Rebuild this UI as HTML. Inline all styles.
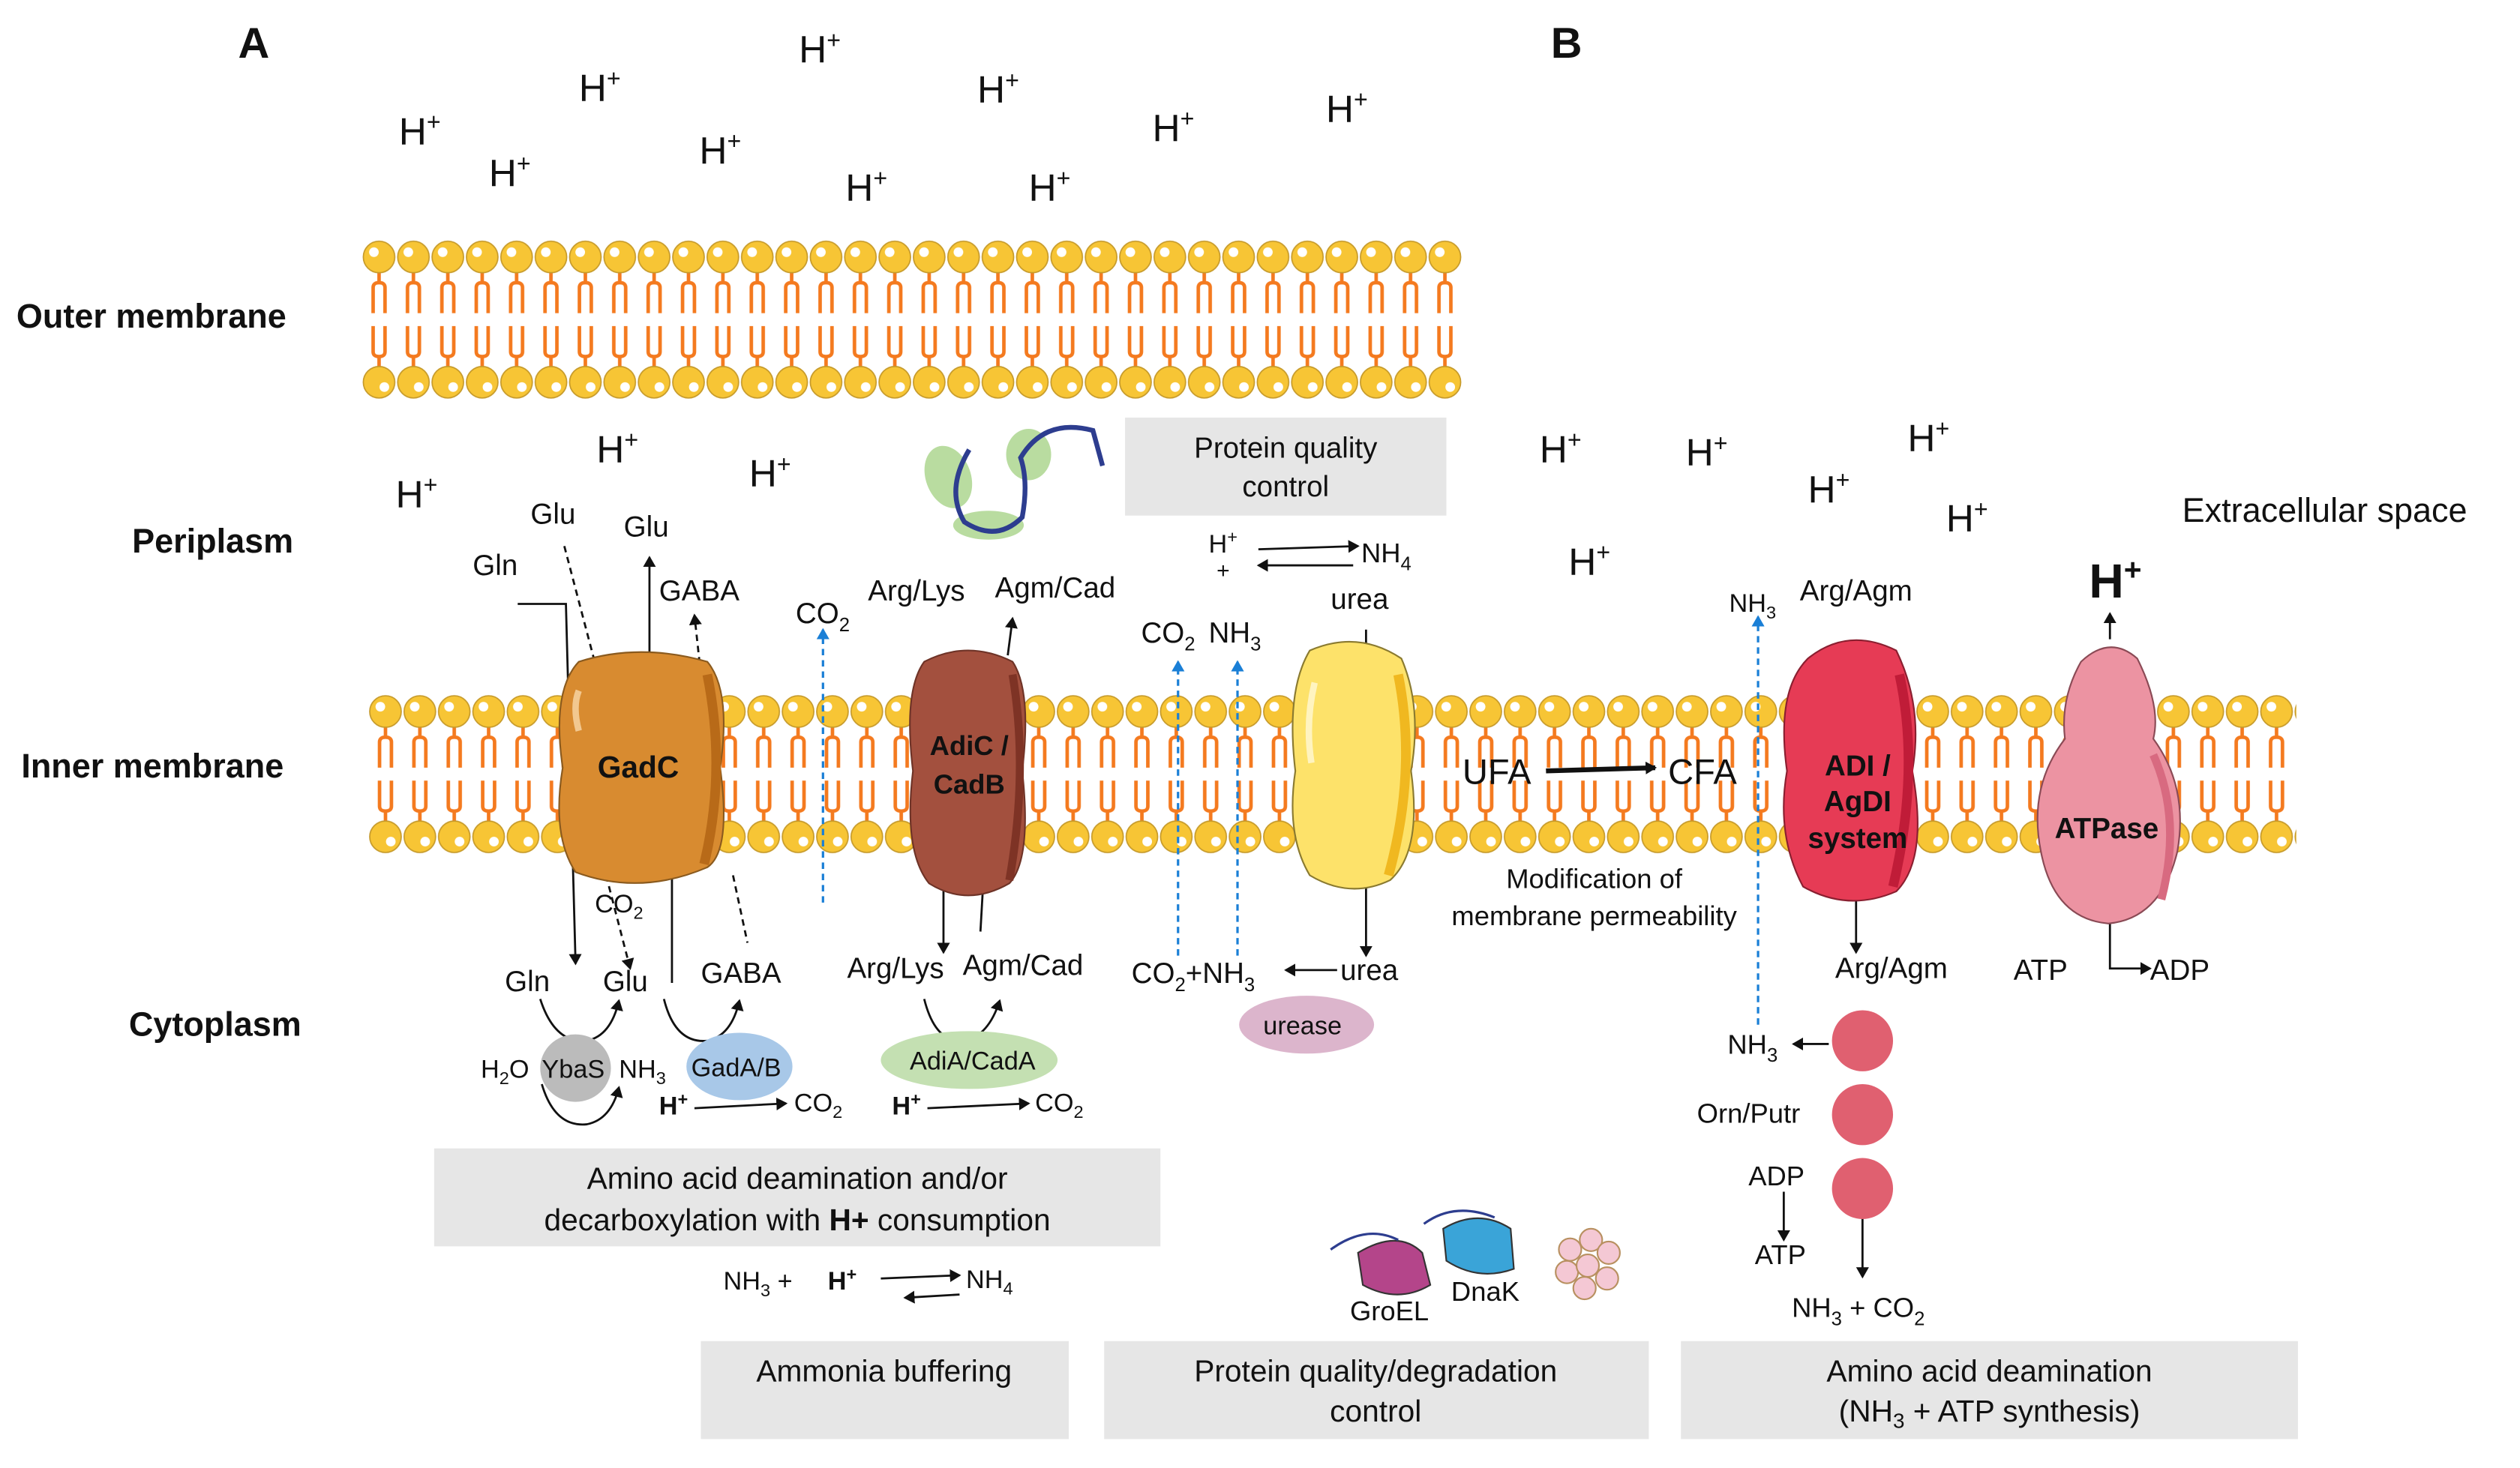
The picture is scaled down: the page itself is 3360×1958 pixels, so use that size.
<!DOCTYPE html>
<html><head><meta charset="utf-8"><style>
html,body{margin:0;padding:0;background:#fff}
svg{display:block}
text{font-family:"Liberation Sans",Arial,sans-serif;fill:#111}
</style></head><body>
<svg width="3360" height="1958" viewBox="0 0 1568 914" xmlns="http://www.w3.org/2000/svg">
<defs>
<g id="unit">
 <path d="M10.7 9 V17 M7 35 V19 Q7 16 10.7 16 Q14.4 16 14.4 19 V35" stroke="#f47a1f" stroke-width="2.2" fill="none"/>
 <path d="M10.7 69 V61 M7 43 V59 Q7 62 10.7 62 Q14.4 62 14.4 59 V43" stroke="#f47a1f" stroke-width="2.2" fill="none"/>
 <circle cx="10.7" cy="0" r="9.8" fill="#f7c535" stroke="#c69a2a" stroke-width="0.8"/>
 <circle cx="7.5" cy="-3" r="3" fill="#fff"/>
 <circle cx="10.7" cy="78" r="9.8" fill="#f7c535" stroke="#c69a2a" stroke-width="0.8"/>
 <circle cx="14" cy="81" r="3" fill="#fff"/>
</g>
<pattern id="lipO" x="225" y="149" width="21.4" height="100" patternUnits="userSpaceOnUse">
 <use href="#unit" transform="translate(0,11)"/>
</pattern>
<pattern id="lipI" x="229" y="432" width="21.4" height="100" patternUnits="userSpaceOnUse">
 <use href="#unit" transform="translate(0,11)"/>
</pattern>
<marker id="ar" markerWidth="8" markerHeight="8" refX="6" refY="4" orient="auto" markerUnits="userSpaceOnUse"><path d="M0 0 L7 4 L0 8 Z" fill="#111"/></marker>
<marker id="arb" markerWidth="8" markerHeight="8" refX="6" refY="4" orient="auto" markerUnits="userSpaceOnUse"><path d="M0 0 L7 4 L0 8 Z" fill="#1a7fd6"/></marker>
</defs>

<!-- membranes -->
<rect x="225" y="149" width="685" height="100" fill="url(#lipO)"/>
<rect x="229" y="432" width="1200" height="100" fill="url(#lipI)"/>

<!-- gray boxes -->
<rect x="700" y="260" width="200" height="61" fill="#e6e6e6"/>
<text x="800" y="285" font-size="18" text-anchor="middle">Protein quality</text>
<text x="800" y="309" font-size="18" text-anchor="middle">control</text>
<rect x="270" y="715" width="452" height="61" fill="#e6e6e6"/>
<text x="496" y="740" font-size="19" text-anchor="middle">Amino acid deamination and/or</text>
<text x="496" y="766" font-size="19" text-anchor="middle">decarboxylation with <tspan font-weight="bold">H+</tspan> consumption</text>
<rect x="436" y="835" width="229" height="61" fill="#e6e6e6"/>
<text x="550" y="860" font-size="19" text-anchor="middle">Ammonia buffering</text>
<rect x="687" y="835" width="339" height="61" fill="#e6e6e6"/>
<text x="856" y="860" font-size="19" text-anchor="middle">Protein quality/degradation</text>
<text x="856" y="885" font-size="19" text-anchor="middle">control</text>
<rect x="1046" y="835" width="384" height="61" fill="#e6e6e6"/>
<text x="1238" y="860" font-size="19" text-anchor="middle">Amino acid deamination</text>
<text x="1238" y="885" font-size="19" text-anchor="middle">(NH<tspan font-size="13" dy="4">3</tspan><tspan dy="-4"> + ATP synthesis)</tspan></text>

<!-- section labels -->
<text x="148" y="36" font-size="27" font-weight="bold">A</text>
<text x="965" y="36" font-size="27" font-weight="bold">B</text>
<text x="10" y="204" font-size="21" font-weight="bold">Outer membrane</text>
<text x="82" y="344" font-size="21" font-weight="bold">Periplasm</text>
<text x="13" y="484" font-size="21" font-weight="bold">Inner membrane</text>
<text x="80" y="645" font-size="21" font-weight="bold">Cytoplasm</text>
<text x="1358" y="325" font-size="21">Extracellular space</text>

<!-- H+ -->
<g font-size="24">
<text x="248" y="90">H<tspan font-size="15" dy="-9">+</tspan></text>
<text x="304" y="116">H<tspan font-size="15" dy="-9">+</tspan></text>
<text x="360" y="63">H<tspan font-size="15" dy="-9">+</tspan></text>
<text x="435" y="102">H<tspan font-size="15" dy="-9">+</tspan></text>
<text x="497" y="39">H<tspan font-size="15" dy="-9">+</tspan></text>
<text x="526" y="125">H<tspan font-size="15" dy="-9">+</tspan></text>
<text x="608" y="64">H<tspan font-size="15" dy="-9">+</tspan></text>
<text x="640" y="125">H<tspan font-size="15" dy="-9">+</tspan></text>
<text x="717" y="88">H<tspan font-size="15" dy="-9">+</tspan></text>
<text x="825" y="76">H<tspan font-size="15" dy="-9">+</tspan></text>
<text x="246" y="316">H<tspan font-size="15" dy="-9">+</tspan></text>
<text x="371" y="288">H<tspan font-size="15" dy="-9">+</tspan></text>
<text x="466" y="303">H<tspan font-size="15" dy="-9">+</tspan></text>
<text x="958" y="288">H<tspan font-size="15" dy="-9">+</tspan></text>
<text x="1049" y="290">H<tspan font-size="15" dy="-9">+</tspan></text>
<text x="1187" y="281">H<tspan font-size="15" dy="-9">+</tspan></text>
<text x="1125" y="313">H<tspan font-size="15" dy="-9">+</tspan></text>
<text x="1211" y="331">H<tspan font-size="15" dy="-9">+</tspan></text>
<text x="976" y="358">H<tspan font-size="15" dy="-9">+</tspan></text>
<text x="1300" y="372" font-size="30" font-weight="bold">H<tspan font-size="19" dy="-11">+</tspan></text>
</g>

<!-- squiggle protein -->
<ellipse cx="590" cy="297" rx="14" ry="20" fill="#b9dca0" transform="rotate(-20 590 297)"/>
<ellipse cx="640" cy="283" rx="14" ry="16" fill="#b9dca0"/>
<ellipse cx="615" cy="327" rx="22" ry="9" fill="#b9dca0"/>
<path d="M603 280 Q588 305 600 325 Q620 338 636 322 Q640 300 635 285 Q650 260 680 268 L686 290" stroke="#2d3d8f" stroke-width="3" fill="none"/>

<!-- arrows -->
<g stroke="#111" stroke-width="1.3" fill="none">
<path d="M322 376 L352 376 L358 600" marker-end="url(#ar)"/>
<path d="M351 340 L372 420" stroke-dasharray="4 3"/>
<path d="M404 420 L404 347" marker-end="url(#ar)"/>
<path d="M436 420 L432 383" stroke-dasharray="4 3" marker-end="url(#ar)"/>
<path d="M377 545 L392 603" stroke-dasharray="4 3" marker-end="url(#ar)"/>
<path d="M418 545 L418 612"/>
<path d="M456 545 L465 587" stroke-dasharray="4 3"/>
<path d="M587 545 L587 593" marker-end="url(#ar)"/>
<path d="M627 408 L630 385" marker-end="url(#ar)"/>
<path d="M612 545 L610 580"/>
<path d="M850 392 L850 410"/>
<path d="M850 545 L850 595" marker-end="url(#ar)"/>
<path d="M1155 555 L1155 593" marker-end="url(#ar)"/>
<path d="M1159 758 L1159 795" marker-end="url(#ar)"/>
<path d="M1110 742 L1110 772" marker-end="url(#ar)"/>
<path d="M1313 575 L1313 603 L1338 603" marker-end="url(#ar)"/>
<path d="M1313 398 L1313 382" marker-end="url(#ar)"/>
<path d="M1138 650 L1116 650" marker-end="url(#ar)"/>
<path d="M832 604 L800 604" marker-end="url(#ar)"/>
<path d="M783 342 L845 340" marker-end="url(#ar)"/>
<path d="M842 352 L783 352" marker-end="url(#ar)"/>
<path d="M548 796 L597 794" marker-end="url(#ar)"/>
<path d="M597 806 L563 808" marker-end="url(#ar)"/>
<path d="M432 690 L489 687" marker-end="url(#ar)"/>
<path d="M577 690 L640 687" marker-end="url(#ar)"/>
<path d="M336 622 Q345 650 365 648 Q380 645 385 623" marker-end="url(#ar)"/>
<path d="M413 622 Q420 650 440 648 Q455 645 460 623" marker-end="url(#ar)"/>
<path d="M575 622 Q582 650 600 648 Q615 645 622 623" marker-end="url(#ar)"/>
<path d="M337 675 Q345 702 365 700 Q380 697 385 677" marker-end="url(#ar)"/>
</g>
<path d="M962 480 L1030 478" stroke="#111" stroke-width="3" marker-end="url(#ar)"/>
<!-- blue dashed -->
<g stroke="#1a7fd6" stroke-width="1.5" stroke-dasharray="4 3" fill="none">
<path d="M512 562 L512 392" marker-end="url(#arb)"/>
<path d="M733 595 L733 412" marker-end="url(#arb)"/>
<path d="M770 595 L770 412" marker-end="url(#arb)"/>
<path d="M1094 638 L1094 384" marker-end="url(#arb)"/>
</g>

<!-- transporters -->
<path d="M360 412 Q398 400 440 412 Q455 430 448 478 Q455 530 440 540 Q398 558 358 543 Q343 520 350 478 Q343 430 360 412 Z" fill="#d88b30" stroke="#8a5a1e" stroke-width="1"/>
<path d="M440 420 Q452 480 438 538" stroke="#b86a18" stroke-width="6" fill="none"/>
<path d="M360 430 Q356 440 360 455" stroke="#f2c890" stroke-width="4" fill="none"/>
<text x="397" y="484" font-size="19" font-weight="bold" text-anchor="middle">GadC</text>

<path d="M575 412 Q602 398 630 412 Q642 430 636 480 Q642 535 628 550 Q602 565 578 550 Q562 530 568 480 Q562 430 575 412 Z" fill="#a3503e" stroke="#6e3327" stroke-width="1"/>
<path d="M630 420 Q640 480 628 548" stroke="#7e3325" stroke-width="5" fill="none"/>
<text x="603" y="470" font-size="17" font-weight="bold" text-anchor="middle">AdiC /</text>
<text x="603" y="494" font-size="17" font-weight="bold" text-anchor="middle">CadB</text>

<path d="M815 405 Q845 392 872 410 Q885 440 878 480 Q885 530 865 548 Q840 560 815 545 Q800 520 806 480 Q800 430 815 405 Z" fill="#fde26a" stroke="#8a7a30" stroke-width="1"/>
<path d="M870 420 Q882 480 864 545" stroke="#f0b820" stroke-width="6" fill="none"/>
<path d="M818 425 Q812 450 816 475" stroke="#fff4c0" stroke-width="4" fill="none"/>

<path d="M1125 410 Q1150 390 1180 405 Q1197 440 1190 480 Q1200 535 1180 555 Q1150 568 1122 552 Q1105 520 1112 480 Q1105 430 1125 410 Z" fill="#e63b55" stroke="#8a1f30" stroke-width="1"/>
<path d="M1182 420 Q1195 480 1178 552" stroke="#c01c38" stroke-width="6" fill="none"/>
<text x="1156" y="483" font-size="18" font-weight="bold" text-anchor="middle">ADI /</text>
<text x="1156" y="505" font-size="18" font-weight="bold" text-anchor="middle">AgDI</text>
<text x="1156" y="528" font-size="18" font-weight="bold" text-anchor="middle">system</text>

<path d="M1295 412 Q1313 395 1330 410 Q1345 440 1340 460 Q1362 490 1355 530 Q1345 572 1312 575 Q1278 572 1270 530 Q1262 490 1285 460 Q1282 435 1295 412 Z" fill="#ec93a2" stroke="#8a4a55" stroke-width="1"/>
<path d="M1340 470 Q1358 510 1345 560" stroke="#d86a80" stroke-width="5" fill="none"/>
<text x="1311" y="522" font-size="18" font-weight="bold" text-anchor="middle">ATPase</text>

<!-- enzymes -->
<ellipse cx="358" cy="665" rx="22" ry="21" fill="#bbbbbb"/>
<ellipse cx="460" cy="664" rx="33" ry="21" fill="#a8c8e8"/>
<ellipse cx="603" cy="660" rx="55" ry="18" fill="#c4e0b2"/>
<ellipse cx="813" cy="638" rx="42" ry="18" fill="#dcb5cc"/>
<circle cx="1159" cy="648" r="19" fill="#e06070"/>
<circle cx="1159" cy="694" r="19" fill="#e06070"/>
<circle cx="1159" cy="740" r="19" fill="#e06070"/>

<!-- chaperones -->
<path d="M845 780 Q870 765 885 780 L890 800 Q870 812 848 800 Z" fill="#b4458a" stroke="#333" stroke-width="1"/>
<path d="M898 765 Q920 752 940 765 L942 790 Q920 798 900 785 Z" fill="#3aa4d8" stroke="#333" stroke-width="1"/>
<path d="M828 778 Q850 762 870 772" stroke="#2d3d8f" fill="none" stroke-width="1.5"/>
<path d="M886 762 Q905 748 930 758" stroke="#2d3d8f" fill="none" stroke-width="1.5"/>
<g fill="#f4c8d4" stroke="#b89060" stroke-width="1">
<circle cx="977" cy="778" r="7"/><circle cx="990" cy="772" r="7"/><circle cx="1001" cy="780" r="7"/>
<circle cx="975" cy="792" r="7"/><circle cx="988" cy="788" r="7"/><circle cx="1000" cy="796" r="7"/><circle cx="986" cy="802" r="7"/>
</g>

<!-- labels -->
<g font-size="18">
<text x="330" y="326">Glu</text>
<text x="294" y="358">Gln</text>
<text x="388" y="334">Glu</text>
<text x="410" y="374">GABA</text>
<text x="495" y="388">CO<tspan font-size="12" dy="5">2</tspan></text>
<text x="540" y="374">Arg/Lys</text>
<text x="619" y="372">Agm/Cad</text>
<text x="710" y="400">CO<tspan font-size="12" dy="5">2</tspan></text>
<text x="752" y="400">NH<tspan font-size="12" dy="5">3</tspan></text>
<text x="752" y="344" font-size="16">H<tspan font-size="11" dy="-6">+</tspan></text>
<text x="757" y="360" font-size="14">+</text>
<text x="847" y="350" font-size="17">NH<tspan font-size="12" dy="5">4</tspan></text>
<text x="828" y="379">urea</text>
<text x="1076" y="381" font-size="16">NH<tspan font-size="11" dy="4">3</tspan></text>
<text x="1120" y="374">Arg/Agm</text>
<text x="370" y="568" font-size="16">CO<tspan font-size="11" dy="4">2</tspan></text>
<text x="314" y="617">Gln</text>
<text x="375" y="617">Glu</text>
<text x="436" y="612">GABA</text>
<text x="527" y="609">Arg/Lys</text>
<text x="599" y="607">Agm/Cad</text>
<text x="704" y="612">CO<tspan font-size="12" dy="5">2</tspan><tspan dy="-5">+NH</tspan><tspan font-size="12" dy="5">3</tspan></text>
<text x="834" y="610">urea</text>
<text x="786" y="644" font-size="16">urease</text>
<text x="299" y="671" font-size="16">H<tspan font-size="11" dy="4">2</tspan><tspan dy="-4">O</tspan></text>
<text x="337" y="671" font-size="16">YbaS</text>
<text x="385" y="671" font-size="16">NH<tspan font-size="11" dy="4">3</tspan></text>
<text x="430" y="670" font-size="16">GadA/B</text>
<text x="566" y="666" font-size="16">AdiA/CadA</text>
<text x="410" y="694" font-size="16" font-weight="bold">H<tspan font-size="11" dy="-6">+</tspan></text>
<text x="494" y="692" font-size="16">CO<tspan font-size="11" dy="4">2</tspan></text>
<text x="555" y="694" font-size="16" font-weight="bold">H<tspan font-size="11" dy="-6">+</tspan></text>
<text x="644" y="692" font-size="16">CO<tspan font-size="11" dy="4">2</tspan></text>
<text x="450" y="803" font-size="16">NH<tspan font-size="11" dy="4">3</tspan><tspan dy="-4"> + </tspan></text>
<text x="515" y="803" font-size="16" font-weight="bold">H<tspan font-size="11" dy="-6">+</tspan></text>
<text x="601" y="802" font-size="16">NH<tspan font-size="11" dy="4">4</tspan></text>
<text x="910" y="488" font-size="22">UFA</text>
<text x="1038" y="488" font-size="22">CFA</text>
<text x="992" y="553" font-size="17" text-anchor="middle">Modification of</text>
<text x="992" y="576" font-size="17" text-anchor="middle">membrane permeability</text>
<text x="1142" y="609">Arg/Agm</text>
<text x="1253" y="610">ATP</text>
<text x="1338" y="610">ADP</text>
<text x="1075" y="656" font-size="17">NH<tspan font-size="12" dy="5">3</tspan></text>
<text x="1056" y="699" font-size="17">Orn/Putr</text>
<text x="1088" y="738" font-size="17">ADP</text>
<text x="1092" y="787" font-size="17">ATP</text>
<text x="1115" y="820" font-size="17">NH<tspan font-size="12" dy="5">3</tspan><tspan dy="-5"> +  CO</tspan><tspan font-size="12" dy="5">2</tspan></text>
<text x="840" y="822" font-size="17">GroEL</text>
<text x="903" y="810" font-size="17">DnaK</text>
</g>
</svg>
</body></html>
